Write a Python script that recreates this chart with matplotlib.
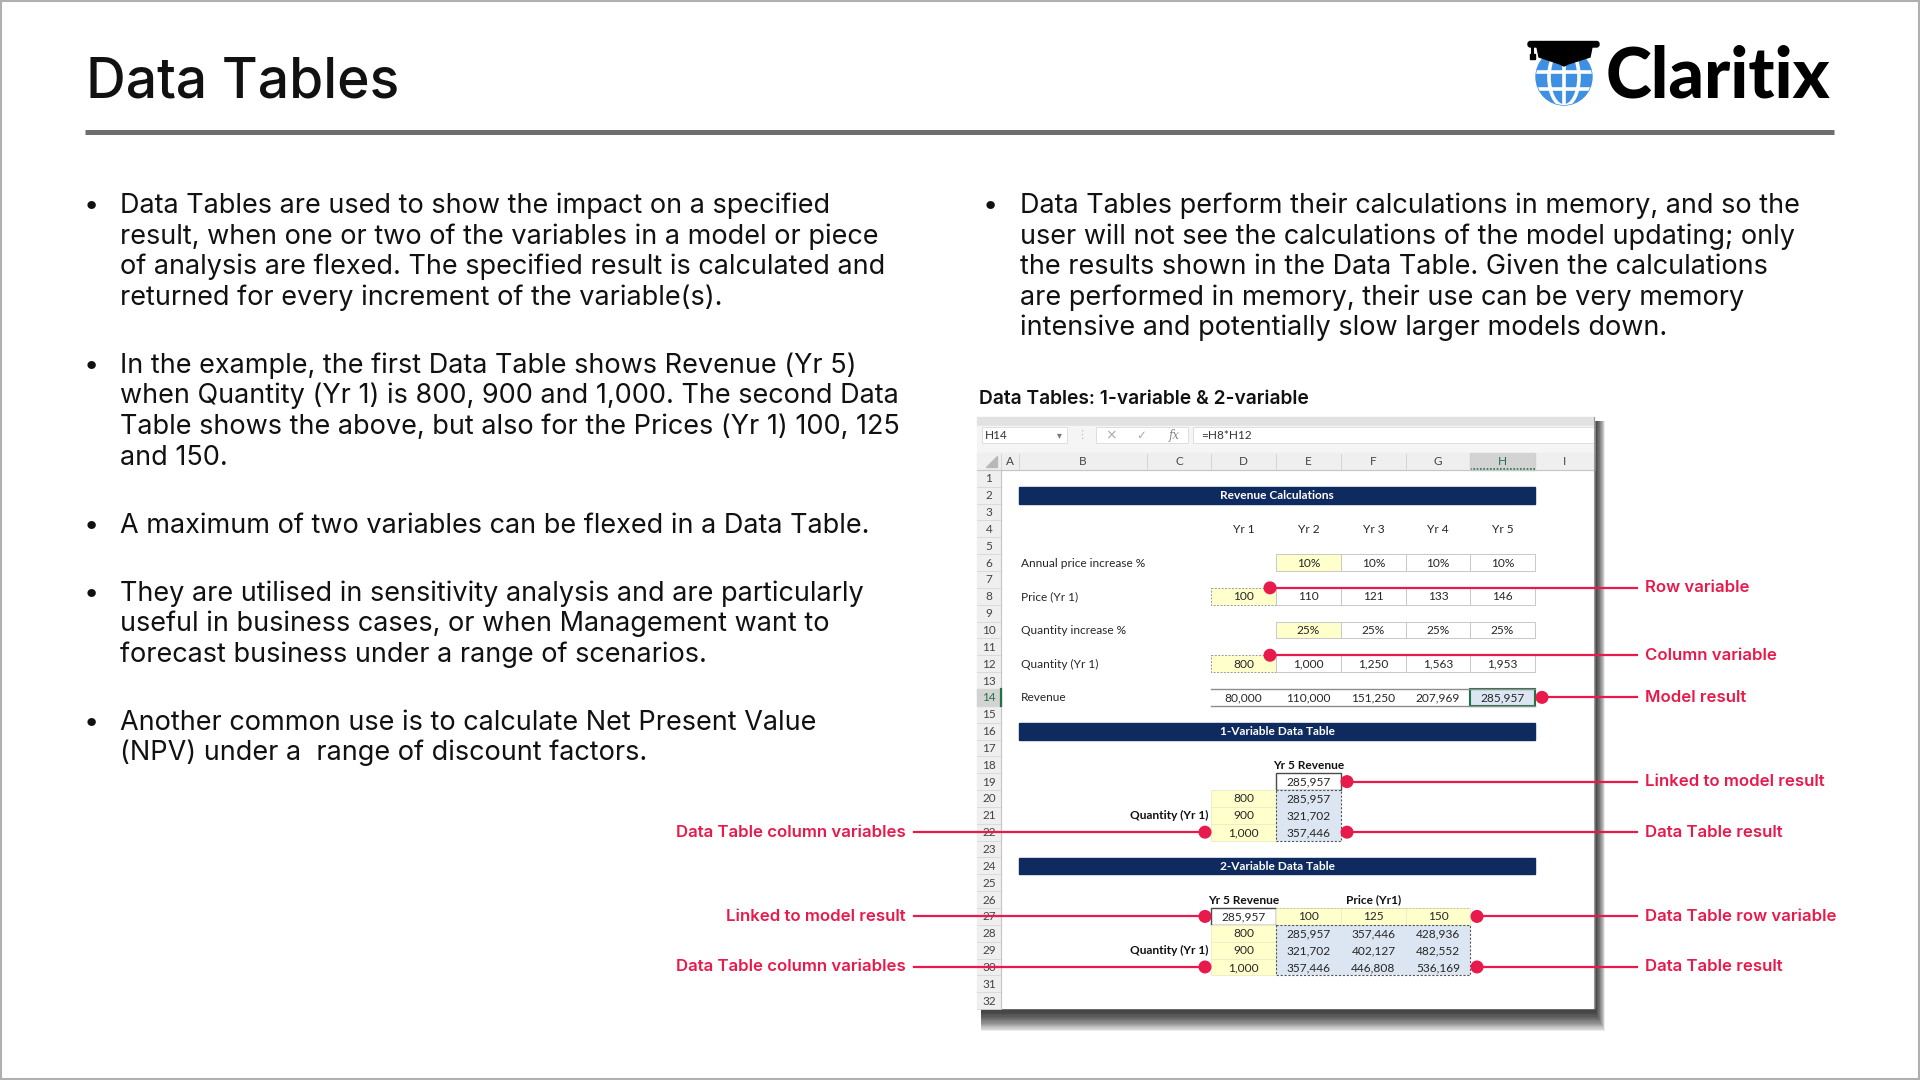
import matplotlib
matplotlib.use('Agg')
import matplotlib.pyplot as plt
from matplotlib.patches import Rectangle, Circle, Ellipse, FancyBboxPatch, Polygon

# ---------------- data ----------------
left_bullets = [
    ["Data Tables are used to show the impact on a specified",
     "result, when one or two of the variables in a model or piece",
     "of analysis are flexed. The specified result is calculated and",
     "returned for every increment of the variable(s)."],
    ["In the example, the first Data Table shows Revenue (Yr 5)",
     "when Quantity (Yr 1) is 800, 900 and 1,000. The second Data",
     "Table shows the above, but also for the Prices (Yr 1) 100, 125",
     "and 150."],
    ["A maximum of two variables can be flexed in a Data Table."],
    ["They are utilised in sensitivity analysis and are particularly",
     "useful in business cases, or when Management want to",
     "forecast business under a range of scenarios."],
    ["Another common use is to calculate Net Present Value",
     "(NPV) under a  range of discount factors."],
]
right_bullets = [
    ["Data Tables perform their calculations in memory, and so the",
     "user will not see the calculations of the model updating; only",
     "the results shown in the Data Table. Given the calculations",
     "are performed in memory, their use can be very memory",
     "intensive and potentially slow larger models down."],
]

years = ['Yr 1', 'Yr 2', 'Yr 3', 'Yr 4', 'Yr 5']
price_increase = [0.10, 0.10, 0.10, 0.10]      # Yr 2 .. Yr 5
price = [100, 110, 121, 133, 146]
qty_increase = [0.25, 0.25, 0.25, 0.25]        # Yr 2 .. Yr 5
quantity = [800, 1000, 1250, 1563, 1953]
revenue = [80000, 110000, 151250, 207969, 285957]

dt1_quantity = [800, 900, 1000]
dt1_revenue = [285957, 321702, 357446]
dt2_prices = [100, 125, 150]
dt2_revenue = [[285957, 357446, 428936],
               [321702, 402127, 482552],
               [357446, 446808, 536169]]

right_notes = ['Row variable', 'Column variable', 'Model result',
               'Linked to model result', 'Data Table result',
               'Data Table row variable', 'Data Table result']
left_notes = ['Data Table column variables', 'Linked to model result',
              'Data Table column variables']

# ---------------- figure ----------------
fig = plt.figure(figsize=(19.2, 10.8), dpi=100)
ax = fig.add_axes([0, 0, 1, 1])
ax.set_xlim(0, 1920)
ax.set_ylim(1080, 0)
ax.axis('off')
fig.canvas.draw()
rend = fig.canvas.get_renderer()

def fit(text, target, **kw):
    t = ax.text(0, 0, text, fontsize=10, **kw)
    w = t.get_window_extent(renderer=rend).width
    t.remove()
    return 10 * target / w

BODY = 'Inter'
RED = '#E8194B'
NAVY = '#0E2A5F'
YELLOW = '#FFFFCC'
BLUE = '#DCE6F2'
GREEN = '#217346'
CELLF = 'Lato'

# slide frame
ax.add_patch(Rectangle((1, 1), 1918, 1078, fill=False, edgecolor='#B0B0B0', lw=1.5))

# title + rule
ts = fit('Data Tables', 313, family=BODY, fontweight='medium')
ax.text(86, 98, 'Data Tables', fontsize=ts, family=BODY, fontweight='medium',
        color='#111111', va='baseline')
ax.plot([85, 1834], [131.5, 131.5], color='#6E6E6E', lw=3.6, solid_capstyle='butt')

# logo
ax.add_patch(Circle((1564, 77), 28, color='#3F8FE3', zorder=2))
globe = Circle((1564, 77), 28, transform=ax.transData)
for art in [ax.plot([1520, 1610], [72, 72], color='white', lw=2.6, zorder=3)[0],
            ax.plot([1520, 1610], [89, 89], color='white', lw=2.6, zorder=3)[0],
            ax.plot([1564, 1564], [40, 110], color='white', lw=2.6, zorder=3)[0]]:
    art.set_clip_path(globe)
mer = Ellipse((1564, 77), 30, 58, fill=False, edgecolor='white', lw=2.6, zorder=3)
ax.add_patch(mer)
mer.set_clip_path(globe)
ax.add_patch(FancyBboxPatch((1528, 41.5), 71, 5.5, boxstyle='round,pad=0,rounding_size=2.5',
                            color='black', zorder=4))
ax.add_patch(Polygon([(1537, 47), (1592, 47), (1590, 57), (1568, 64), (1564, 66),
                      (1560, 64), (1539, 57)], closed=True, color='black', zorder=4))
ax.plot([1532, 1532], [46, 55], color='black', lw=2.2, zorder=4)
ax.add_patch(Rectangle((1529.5, 54), 5, 5, color='black', zorder=4))
ls_ = fit('Claritix', 226, family='Lato', fontweight='black')
ax.text(1606, 97, 'Claritix', fontsize=ls_, family='Lato', fontweight='black',
        color='black', va='baseline')

# bullets
bs = fit(left_bullets[0][2], 768, family=BODY)

def bullets(paras, xb, xt):
    li = 0
    for pi, para in enumerate(paras):
        for k, line in enumerate(para):
            y = 213 + li * 30.6 + pi * 37.4
            if k == 0:
                ax.text(xb, y, '\u2022', fontsize=bs, family=BODY, ha='center',
                        va='baseline', color='#111111')
            ax.text(xt, y, line, fontsize=bs, family=BODY, va='baseline', color='#111111')
            li += 1

bullets(left_bullets, 91, 120)
bullets(right_bullets, 990, 1020)

# ---------------- spreadsheet screenshot ----------------
ss = fit('Data Tables: 1-variable & 2-variable', 330, family=BODY, fontweight='semibold')
ax.text(979, 404, 'Data Tables: 1-variable & 2-variable', fontsize=ss, family=BODY,
        fontweight='semibold', color='#111111', va='baseline')

SX0, SX1, SY0, SY1 = 977, 1594, 417, 1008
# drop shadow (right + bottom)
for k in range(16):
    ax.add_patch(Rectangle((SX0 + 4, SY0 + 4), SX1 - SX0 - 2 + k * 0.6, SY1 - SY0 + 1 + k * 1.2,
                           color='black', alpha=0.075, lw=0, zorder=1))
ax.add_patch(Rectangle((SX0, SY0), SX1 - SX0, SY1 - SY0, color='white', zorder=2))

# window chrome and formula bar
ax.add_patch(Rectangle((SX0, SY0), SX1 - SX0, 9, color='#E2E2E2', zorder=2))
ax.add_patch(Rectangle((SX0, 426), SX1 - SX0, 27, color='#F5F5F5', zorder=2))
ax.add_patch(Rectangle((982, 427), 85, 16, facecolor='white', edgecolor='#DADADA', lw=0.6, zorder=3))
ax.add_patch(Rectangle((1096, 427), 92, 16, facecolor='white', edgecolor='#DADADA', lw=0.6, zorder=3))
ax.add_patch(Rectangle((1193, 427), SX1 - 1193, 16, facecolor='white', edgecolor='#DADADA', lw=0.6, zorder=3))
ax.text(985, 435.5, 'H14', fontsize=8.5, family=CELLF, va='center', color='#333333', zorder=4)
ax.text(1059, 435, '\u25be', fontsize=7, family='DejaVu Sans', ha='center', va='center', color='#777777', zorder=4)
ax.text(1082, 435, '\u22ee', fontsize=8, family='DejaVu Sans', ha='center', va='center', color='#BBBBBB', zorder=4)
ax.text(1111, 435, '\u00d7', fontsize=10, family='DejaVu Sans', ha='center', va='center', color='#AAAAAA', zorder=4)
ax.text(1141, 435, '\u2713', fontsize=8.5, family='DejaVu Sans', ha='center', va='center', color='#AAAAAA', zorder=4)
ax.text(1174, 435, 'fx', fontsize=8.5, family='DejaVu Serif', style='italic', ha='center', va='center',
        color='#888888', zorder=4)
ax.text(1201, 435.5, '=H8*H12', fontsize=8.5, family=CELLF, va='center', color='#333333', zorder=4)

# grid geometry
ROW0, RH = 469.9, 16.85
cols = 'ABCDEFGHIJ'
colx = dict(zip(cols, [1001, 1019, 1147, 1211, 1276, 1341, 1406, 1470, 1535, 1594]))

def rtop(r):
    return ROW0 + (r - 1) * RH

def rmid(r):
    return rtop(r) + RH / 2

def cnext(c, n=1):
    return cols[cols.index(c) + n]

# column headers
ax.add_patch(Rectangle((SX0, 453), SX1 - SX0, 16.9, color='#EFEFEF', zorder=2))
ax.add_patch(Rectangle((colx['H'], 453), colx['I'] - colx['H'], 16.9, color='#D3D3D3', zorder=2))
ax.plot([colx['H'], colx['I']], [469, 469], color=GREEN, lw=1.2, ls=(0, (1, 1)), zorder=3)
ax.plot([SX0, SX1], [469.9, 469.9], color='#C6C6C6', lw=0.8, zorder=3)
ax.add_patch(Polygon([(997, 456), (997, 467), (986, 467)], closed=True, color='#B8B8B8', zorder=3))
for c in 'ABCDEFGHI':
    x0, x1 = colx[c], colx[cnext(c)]
    ax.plot([x0, x0], [454, 469], color='#D0D0D0', lw=0.6, zorder=3)
    ax.text((x0 + x1) / 2, 461.5, c, fontsize=8.5, family=CELLF, ha='center', va='center',
            color=GREEN if c == 'H' else '#444444', zorder=4)

# row numbers
ax.add_patch(Rectangle((SX0, ROW0), colx['A'] - SX0, SY1 - ROW0, color='#EFEFEF', zorder=2))
ax.add_patch(Rectangle((SX0, rtop(14)), colx['A'] - SX0, RH, color='#D3D3D3', zorder=2))
for r in range(1, 33):
    ax.plot([SX0, colx['A']], [rtop(r + 1), rtop(r + 1)], color='#D6D6D6', lw=0.6, zorder=3)
    ax.text(989, rmid(r) + 0.5, str(r), fontsize=8.5, family=CELLF, ha='center', va='center',
            color=GREEN if r == 14 else '#444444', zorder=4)
ax.plot([colx['A'], colx['A']], [ROW0, SY1], color='#C6C6C6', lw=0.8, zorder=3)
ax.plot([colx['A'], colx['A']], [rtop(14), rtop(15)], color=GREEN, lw=1.6, zorder=3)

CFS = 8.6

def cell(c, r, txt=None, fill=None, edge=None, ls='-', lw=0.7, bold=False, ha='center',
         color='#262626', span=1):
    x0, x1 = colx[c], colx[cnext(c, span)]
    if fill or edge:
        ax.add_patch(Rectangle((x0, rtop(r)), x1 - x0, RH, facecolor=fill or 'none',
                               edgecolor=edge or 'none', ls=ls, lw=lw, zorder=3))
    if txt is not None:
        x = {'center': (x0 + x1) / 2, 'left': x0 + 2, 'right': x1 - 3}[ha]
        ax.text(x, rmid(r) + 0.5, txt, fontsize=CFS, family=CELLF, ha=ha, va='center',
                fontweight='bold' if bold else 'normal', color=color, zorder=5)

def bar(r, txt):
    ax.add_patch(Rectangle((colx['B'], rtop(r) + 0.5), colx['I'] - colx['B'], RH - 0.5,
                           color=NAVY, zorder=3))
    ax.text((colx['B'] + colx['I']) / 2, rmid(r) + 0.5, txt, fontsize=CFS, family=CELLF,
            fontweight='bold', color='white', ha='center', va='center', zorder=5)

yr_cols = ['D', 'E', 'F', 'G', 'H']

# revenue calculations
bar(2, 'Revenue Calculations')
for c, y in zip(yr_cols, years):
    cell(c, 4, y)
cell('B', 6, 'Annual price increase %', ha='left')
for i, (c, v) in enumerate(zip(yr_cols[1:], price_increase)):
    cell(c, 6, f'{v:.0%}', fill=YELLOW if i == 0 else 'white', edge='#C8C8C8')
cell('B', 8, 'Price (Yr 1)', ha='left')
for i, (c, v) in enumerate(zip(yr_cols, price)):
    if i == 0:
        cell(c, 8, f'{v:,}', fill=YELLOW, edge='#9A9A9A', ls=(0, (2, 1.5)))
    else:
        cell(c, 8, f'{v:,}', fill='white', edge='#C8C8C8')
cell('B', 10, 'Quantity increase %', ha='left')
for i, (c, v) in enumerate(zip(yr_cols[1:], qty_increase)):
    cell(c, 10, f'{v:.0%}', fill=YELLOW if i == 0 else 'white', edge='#C8C8C8')
cell('B', 12, 'Quantity (Yr 1)', ha='left')
for i, (c, v) in enumerate(zip(yr_cols, quantity)):
    if i == 0:
        cell(c, 12, f'{v:,}', fill=YELLOW, edge='#9A9A9A', ls=(0, (2, 1.5)))
    else:
        cell(c, 12, f'{v:,}', fill='white', edge='#C8C8C8')
cell('B', 14, 'Revenue', ha='left')
ax.plot([colx['D'], colx['I']], [rtop(14), rtop(14)], color='#8C8C8C', lw=1.0, zorder=4)
ax.plot([colx['D'], colx['I']], [rtop(15), rtop(15)], color='#8C8C8C', lw=1.0, zorder=4)
for c, v in zip(yr_cols, revenue):
    if c == 'H':
        cell(c, 14, f'{v:,}', fill=BLUE, edge=GREEN, lw=1.5)
    else:
        cell(c, 14, f'{v:,}')

# 1-variable data table
bar(16, '1-Variable Data Table')
cell('E', 18, 'Yr 5 Revenue', bold=True, color='#111111')
cell('E', 19, f'{revenue[-1]:,}', fill='white', edge='#4A4A4A', lw=1.0)
for i, (q, v) in enumerate(zip(dt1_quantity, dt1_revenue)):
    cell('D', 20 + i, f'{q:,}', fill=YELLOW, edge='#EDEDC8')
    cell('E', 20 + i, f'{v:,}', fill=BLUE)
ax.add_patch(Rectangle((colx['E'], rtop(20)), colx['F'] - colx['E'], 3 * RH, fill=False,
                       edgecolor='#555555', ls=(0, (2, 1.5)), lw=0.8, zorder=4))
cell('C', 21, 'Quantity (Yr 1)', bold=True, ha='right', color='#111111')

# 2-variable data table
bar(24, '2-Variable Data Table')
cell('D', 26, 'Yr 5 Revenue', bold=True, color='#111111')
cell('F', 26, 'Price (Yr1)', bold=True, color='#111111')
cell('D', 27, f'{revenue[-1]:,}', fill='white', edge='#4A4A4A', lw=1.0)
for j, p in enumerate(dt2_prices):
    cell(cnext('E', j), 27, f'{p:,}', fill=YELLOW, edge='#EDEDC8')
ax.plot([colx['E'], colx['H']], [rtop(27), rtop(27)], color='#C9C99A', lw=0.7,
        ls=(0, (2, 1.5)), zorder=4)
for i, q in enumerate(dt1_quantity):
    cell('D', 28 + i, f'{q:,}', fill=YELLOW, edge='#EDEDC8')
    for j, v in enumerate(dt2_revenue[i]):
        cell(cnext('E', j), 28 + i, f'{v:,}', fill=BLUE)
ax.add_patch(Rectangle((colx['E'], rtop(28)), colx['H'] - colx['E'], 3 * RH, fill=False,
                       edgecolor='#555555', ls=(0, (2, 1.5)), lw=0.8, zorder=4))
cell('C', 29, 'Quantity (Yr 1)', bold=True, ha='right', color='#111111')

# right sheet edge
ax.plot([SX1, SX1], [SY0, SY1], color='#9A9A9A', lw=0.8, zorder=5)

# ---------------- annotations ----------------
ns = fit('Row variable', 104, family=BODY, fontweight='semibold')
right_dots = [(colx['E'] - 6, rtop(8)), (colx['E'] - 6, rtop(12)), (colx['I'] + 7, rmid(14)),
              (colx['F'] + 6, rmid(19)), (colx['F'] + 6, rmid(22)),
              (colx['H'] + 7, rmid(27)), (colx['H'] + 7, rmid(30))]
for (x, y), lab in zip(right_dots, right_notes):
    ax.plot([x, 1637], [y, y], color=RED, lw=1.6, zorder=8)
    ax.add_patch(Circle((x, y), 5.8, color=RED, zorder=9))
    ax.text(1645, y, lab, fontsize=ns, family=BODY, fontweight='semibold', color=RED,
            va='center', zorder=9)

left_dots = [(colx['D'] - 6, rmid(22)), (colx['D'] - 6, rmid(27)), (colx['D'] - 6, rmid(30))]
for (x, y), lab in zip(left_dots, left_notes):
    ax.plot([914, x], [y, y], color=RED, lw=1.6, zorder=8)
    ax.add_patch(Circle((x, y), 5.8, color=RED, zorder=9))
    ax.text(906, y, lab, fontsize=ns, family=BODY, fontweight='semibold', color=RED,
            ha='right', va='center', zorder=9)

fig.savefig('out.png', dpi=100, facecolor='white')
